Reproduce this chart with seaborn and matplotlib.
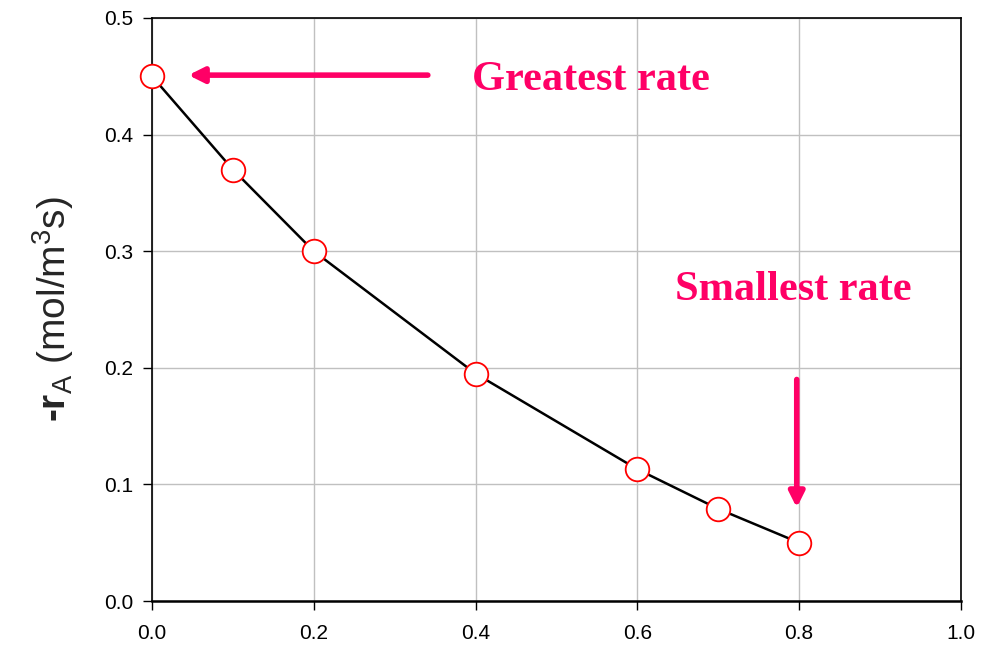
#!/usr/bin/env python3
"""
plot.py - reaction rate vs conversion, with greatest/smallest rate callouts
"""

import pandas as pd
import matplotlib
matplotlib.use('Agg')
import matplotlib.pyplot as plt
import seaborn as sns

# Data
conversion = [0.0, 0.1, 0.2, 0.4, 0.6, 0.7, 0.8]
rate = [0.45, 0.37, 0.30, 0.195, 0.113, 0.079, 0.05]

x_ticks = [0.0, 0.2, 0.4, 0.6, 0.8, 1.0]
y_ticks = [0.0, 0.1, 0.2, 0.3, 0.4, 0.5]

ACCENT = '#FF0066'


def setup_style():
    sns.set_style("ticks")
    plt.rcParams.update({
        'font.family': ['Liberation Sans', 'DejaVu Sans'],
        'mathtext.fontset': 'custom',
        'mathtext.rm': 'Liberation Sans',
        'mathtext.bf': 'Liberation Sans:bold',
        'mathtext.it': 'Liberation Sans:italic',
        'figure.facecolor': 'white',
    })


def main():
    setup_style()
    df = pd.DataFrame({'X': conversion, 'rate': rate})

    fig = plt.figure(figsize=(9.85, 6.45), dpi=100)
    ax = fig.add_axes([0.1543, 0.0682, 0.8213, 0.9039])

    sns.lineplot(data=df, x='X', y='rate', ax=ax, color='black', linewidth=1.8,
                 marker='o', markersize=17, markerfacecolor='white',
                 markeredgecolor='#FF0000', markeredgewidth=1.3, clip_on=False, zorder=5)

    ax.set_xlim(0, 1.0)
    ax.set_ylim(0, 0.5)
    ax.set_xticks(x_ticks)
    ax.set_yticks(y_ticks)
    ax.set_xticklabels([f'{t:.1f}' for t in x_ticks], fontsize=15)
    ax.set_yticklabels([f'{t:.1f}' for t in y_ticks], fontsize=15)
    ax.tick_params(direction='out', length=6.5, width=1, colors='black')
    ax.tick_params(axis='x', pad=10)
    ax.tick_params(axis='y', pad=7)
    ax.grid(True, color='#C0C0C0', linewidth=1)
    ax.set_axisbelow(True)
    for side in ['left', 'right', 'top', 'bottom']:
        ax.spines[side].set_visible(True)
        ax.spines[side].set_color('black')
        ax.spines[side].set_linewidth(1.2)
    ax.spines['bottom'].set_linewidth(1.8)

    ax.set_xlabel('')
    ax.set_ylabel('$\\mathbf{\u2010r}_{\\mathrm{A}}$ (mol/m$^{3}$s)', fontsize=28, labelpad=20)

    # Callouts
    ax.annotate('', xy=(0.045, 0.451), xytext=(0.341, 0.451),
                arrowprops=dict(arrowstyle='-|>,head_length=0.9,head_width=0.45',
                                color=ACCENT, lw=4, shrinkA=0, shrinkB=0))
    ax.text(0.396, 0.447, 'Greatest rate', color=ACCENT, fontsize=30.5, fontweight='bold',
            family=['Liberation Serif', 'DejaVu Serif'], va='center', ha='left')

    ax.annotate('', xy=(0.797, 0.080), xytext=(0.797, 0.190),
                arrowprops=dict(arrowstyle='-|>,head_length=0.9,head_width=0.45',
                                color=ACCENT, lw=4, shrinkA=0, shrinkB=0))
    ax.text(0.647, 0.267, 'Smallest rate', color=ACCENT, fontsize=30.5, fontweight='bold',
            family=['Liberation Serif', 'DejaVu Serif'], va='center', ha='left')

    fig.savefig('out.png', dpi=100, facecolor='white')
    plt.close(fig)


if __name__ == "__main__":
    main()
